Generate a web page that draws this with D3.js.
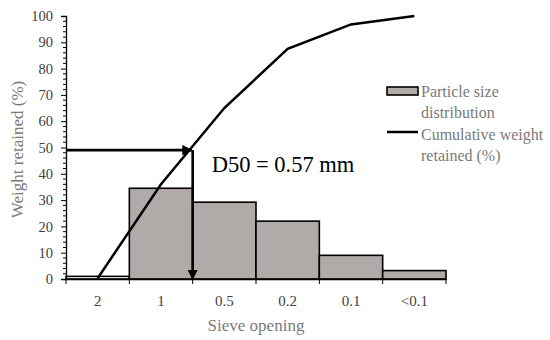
<!DOCTYPE html>
<html>
<head>
<meta charset="utf-8">
<script src="https://cdn.jsdelivr.net/npm/d3@7"></script>
<style>
  body { margin: 0; background: #fff; }
  text { font-family: "Liberation Serif", serif; }
</style>
</head>
<body>
<svg id="chart"></svg>
<script>
// sieve classes and values
const sieves = ["2", "1", "0.5", "0.2", "0.1", "<0.1"];
const retained = [1, 34.5, 29.2, 22, 9, 3.2];
const cumulative = [0.3, 36, 65, 87.5, 96.8, 100];
const yTicks = [0, 10, 20, 30, 40, 50, 60, 70, 80, 90, 100];
const d50Value = 49;
const d50Label = "D50 = 0.57 mm";
const legendLabels = [["Particle size", "distribution"], ["Cumulative weight", "retained (%)"]];

const width = 550, height = 340;
const margin = { top: 16, right: 104, bottom: 61, left: 66 };

const svg = d3.select("#chart").attr("width", width).attr("height", height);

const x = d3.scaleBand().domain(sieves)
  .range([margin.left, width - margin.right]).padding(0);
const y = d3.scaleLinear().domain([0, 100])
  .range([height - margin.bottom, margin.top]);

// arrowhead marker
svg.append("defs").append("marker")
  .attr("id", "arrow")
  .attr("viewBox", "0 0 10 10")
  .attr("refX", 9).attr("refY", 5)
  .attr("markerWidth", 4).attr("markerHeight", 4)
  .attr("markerUnits", "strokeWidth")
  .attr("orient", "auto")
  .append("path").attr("d", "M0,0L10,5L0,10Z").attr("fill", "#000");

// bars
svg.append("g").selectAll("rect")
  .data(sieves.map((s, i) => ({ s, v: retained[i] })))
  .join("rect")
  .attr("x", (d) => x(d.s))
  .attr("y", (d) => y(d.v))
  .attr("width", x.bandwidth())
  .attr("height", (d) => y(0) - y(d.v))
  .attr("fill", (d, i) => (i === 0 ? "#fff" : "#b0aba9"))
  .attr("stroke", "#000")
  .attr("stroke-width", 1.6);

// cumulative line
const line = d3.line()
  .x((d) => x(d.s) + x.bandwidth() / 2)
  .y((d) => y(d.v));
svg.append("path")
  .datum(sieves.map((s, i) => ({ s, v: cumulative[i] })))
  .attr("d", line)
  .attr("fill", "none")
  .attr("stroke", "#000")
  .attr("stroke-width", 2.5);

// D50 arrows
const xd = x("0.5");
svg.append("line")
  .attr("x1", x.range()[0]).attr("x2", xd - 1)
  .attr("y1", y(d50Value)).attr("y2", y(d50Value))
  .attr("stroke", "#000").attr("stroke-width", 2.6)
  .attr("marker-end", "url(#arrow)");
svg.append("line")
  .attr("x1", xd).attr("x2", xd)
  .attr("y1", y(d50Value)).attr("y2", y(0))
  .attr("stroke", "#000").attr("stroke-width", 2.6)
  .attr("marker-end", "url(#arrow)");
svg.append("text")
  .attr("x", xd + 19).attr("y", y(d50Value) + 22)
  .attr("font-size", 22.5)
  .attr("fill", "#000")
  .text(d50Label);

// y axis
const yAxis = svg.append("g")
  .attr("transform", `translate(${margin.left},0)`)
  .call(d3.axisLeft(y).tickValues(yTicks).tickSize(5).tickPadding(8));
yAxis.append("g").selectAll("line")
  .data(d3.range(0, 101, 2).filter((v) => v % 10 !== 0))
  .join("line")
  .attr("x1", -3).attr("x2", 0)
  .attr("y1", (d) => y(d)).attr("y2", (d) => y(d))
  .attr("stroke", "#000");
yAxis.select(".domain").attr("stroke-width", 1.3);
yAxis.selectAll(".tick text").attr("font-size", 14.5).attr("fill", "#404040")
  .style("font-family", "Liberation Serif, serif");

// x axis: ticks on the category boundaries
const xAxis = svg.append("g")
  .attr("transform", `translate(0,${y(0)})`)
  .call(d3.axisBottom(x).tickSize(0).tickPadding(16));
xAxis.select(".domain").attr("stroke-width", 1.3);
xAxis.selectAll(".tick text").attr("font-size", 15).attr("fill", "#404040")
  .style("font-family", "Liberation Serif, serif");
xAxis.append("g").selectAll("line")
  .data(sieves.concat([null]))
  .join("line")
  .attr("x1", (d) => (d === null ? x.range()[1] : x(d)))
  .attr("x2", (d) => (d === null ? x.range()[1] : x(d)))
  .attr("y1", 0).attr("y2", 5)
  .attr("stroke", "#000");

// axis titles
svg.append("text")
  .attr("transform", `translate(23,${(y(0) + y(100)) / 2 + 2}) rotate(-90)`)
  .attr("text-anchor", "middle")
  .attr("font-size", 17)
  .attr("fill", "#7a7a7a")
  .text("Weight retained (%)");
svg.append("text")
  .attr("x", (x.range()[0] + x.range()[1]) / 2)
  .attr("y", 331)
  .attr("text-anchor", "middle")
  .attr("font-size", 17)
  .attr("fill", "#7a7a7a")
  .text("Sieve opening");

// legend
const lg = svg.append("g").attr("transform", "translate(387,87)");
lg.append("rect")
  .attr("x", 0).attr("y", 0).attr("width", 31).attr("height", 8)
  .attr("fill", "#b0aba9").attr("stroke", "#000").attr("stroke-width", 1.6);
lg.append("line")
  .attr("x1", 0).attr("x2", 31).attr("y1", 45).attr("y2", 45)
  .attr("stroke", "#000").attr("stroke-width", 2.5);
legendLabels.forEach((lines, i) => {
  lines.forEach((t, j) => {
    lg.append("text")
      .attr("x", 34)
      .attr("y", i * 43 + j * 21 + 10)
      .attr("font-size", 16)
      .attr("fill", "#7a7a7a")
      .text(t);
  });
});
</script>
</body>
</html>
